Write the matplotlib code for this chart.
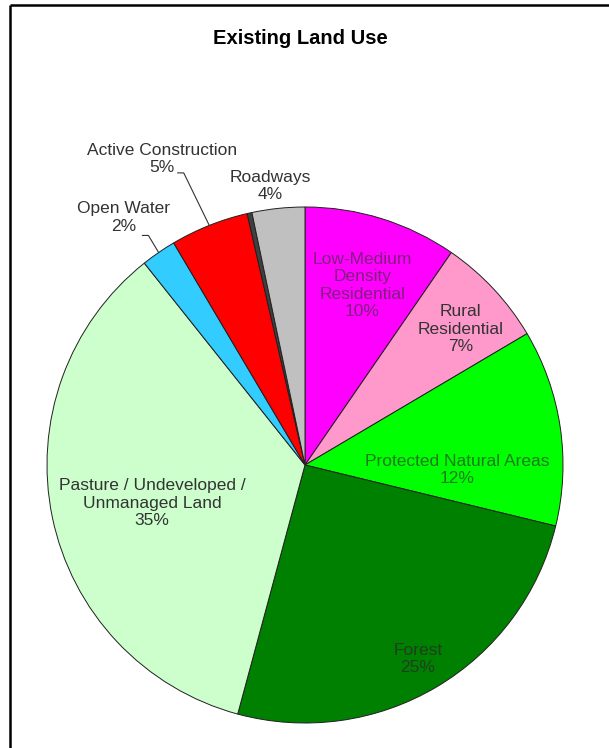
import numpy as np
import matplotlib
matplotlib.use("Agg")
import matplotlib.pyplot as plt

plt.rcParams['font.family'] = ['Liberation Sans', 'DejaVu Sans']

# slices, clockwise from 12 o'clock
names = ["Low-Medium\nDensity\nResidential", "Rural\nResidential",
         "Protected Natural Areas", "Forest",
         "Pasture / Undeveloped /\nUnmanaged Land", "Open Water",
         "Active Construction", "", "Roadways"]
pct_text = ["10%", "7%", "12%", "25%", "35%", "2%", "5%", "", "4%"]
values = [9.6, 6.9, 12.3, 25.4, 35.1, 2.2, 4.9, 0.3, 3.3]
colors = ["#ff00ff", "#ff99cc", "#00ff00", "#008000", "#ccffcc",
          "#33ccff", "#ff0000", "#404040", "#c0c0c0"]
text_colors = ["#7f1f7f", "#333333", "#1f7a1f", "#1f3f1f", "#333333",
               "#333333", "#333333", "#333333", "#333333"]

# label placement: shift (deg, clockwise) from wedge middle, distance in radii
lab_shift = [0.4, 1.9, 10.4, 0.4, -2.3, -1.7, -3.3, 0, -1.2]
lab_r = [0.73, 0.80, 0.59, 0.87, 0.61, 1.19, 1.31, 0, 1.09]
leader = {5: (19, -18), 6: (16, -14)}   # start of leader line from label centre (px)

W, H = 609, 748
cx, cy, R = 305, H - 465, 258

fig = plt.figure(figsize=(W / 100, H / 100), dpi=100)
ax = fig.add_axes([0, 0, 1, 1])

wedges, _ = ax.pie(values, colors=colors, startangle=90, counterclock=False,
                   center=(cx, cy), radius=R,
                   wedgeprops=dict(edgecolor="#202020", linewidth=0.7))

for i, w in enumerate(wedges):
    if not names[i]:
        continue
    mid = np.deg2rad((w.theta1 + w.theta2) / 2 - lab_shift[i])
    tx = cx + lab_r[i] * R * np.cos(mid)
    ty = cy + lab_r[i] * R * np.sin(mid)
    ax.text(tx, ty, names[i] + "\n" + pct_text[i], ha="center", va="center",
            fontsize=12.5, color=text_colors[i], linespacing=1.2)
    if i in leader:
        m = np.deg2rad((w.theta1 + w.theta2) / 2)
        ex, ey = cx + R * np.cos(m), cy + R * np.sin(m)
        sx, sy = tx + leader[i][0], ty + leader[i][1]
        ax.plot([sx, sx + 6, ex], [sy, sy, ey], color="#333333", lw=0.8)

ax.text(300, H - 38, "Existing Land Use", ha="center", va="center",
        fontsize=14.5, fontweight="bold", color="black")

# frame (top and left edge of the chart box)
ax.plot([9.5, W], [H - 4.5, H - 4.5], color="black", lw=1.8, solid_capstyle="butt")
ax.plot([9.5, 9.5], [0, H - 4.5], color="black", lw=1.8, solid_capstyle="butt")

ax.set_xlim(0, W)
ax.set_ylim(0, H)
ax.set_aspect("equal")
ax.axis("off")

fig.savefig("out.png", dpi=100)
